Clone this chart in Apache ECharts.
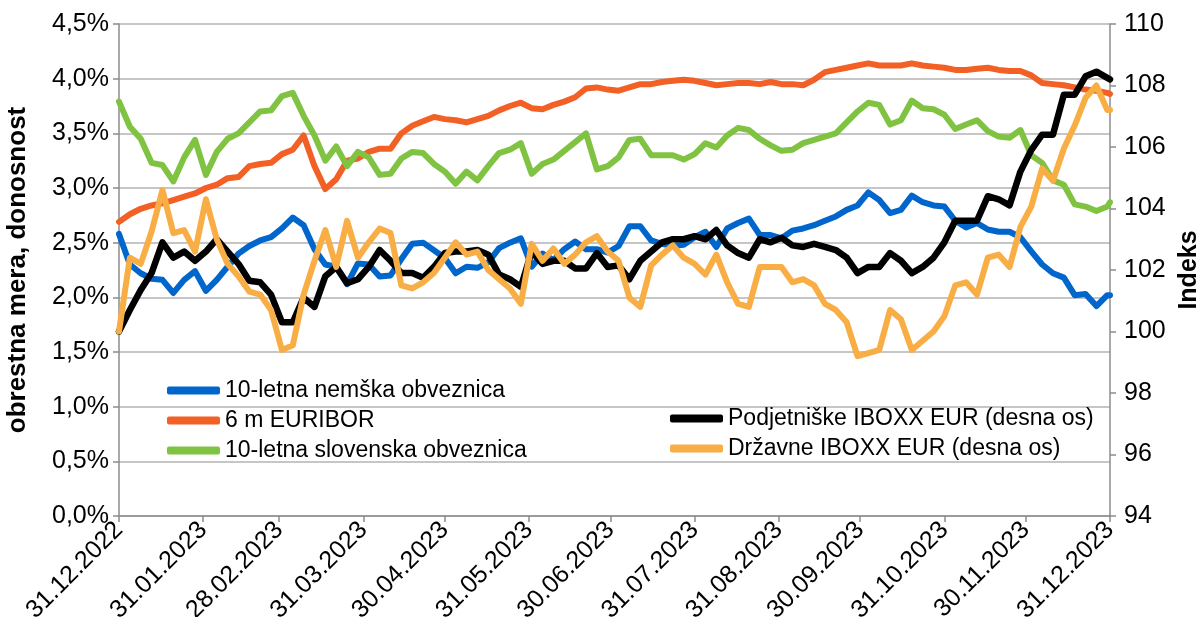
<!DOCTYPE html>
<html>
<head>
<meta charset="utf-8">
<script src="https://cdn.jsdelivr.net/npm/echarts@6/dist/echarts.min.js"></script>
<style>
  html, body { margin: 0; padding: 0; background: #fff; }
  #chart { width: 1196px; height: 617px; }
</style>
</head>
<body>
<div id="chart"></div>
<script>
// days since 31.12.2022
var days = [0,4,8,12,16,20,24,28,32,36,40,44,48,52,56,60,
  64,68,72,76,80,84,88,92,96,100,104,108,112,116,120,124,
  128,132,136,140,144,148,152,156,160,164,168,172,176,180,184,
  188,192,196,200,204,208,212,216,220,224,228,232,236,240,244,
  248,252,256,260,264,268,272,276,280,284,288,292,296,300,304,308,312,
  316,320,324,328,332,336,340,344,348,352,356,360,364,365];

var tickDays = [0,31,59,90,120,151,181,212,243,273,304,334,365];
var tickLabels = ['31.12.2022','31.01.2023','28.02.2023','31.03.2023','30.04.2023','31.05.2023',
  '30.06.2023','31.07.2023','31.08.2023','30.09.2023','31.10.2023','30.11.2023','31.12.2023'];

// left axis, %
var nemska = [2.58,2.3,2.22,2.17,2.16,2.04,2.16,2.24,2.06,2.16,2.28,2.4,2.47,2.52,2.55,2.63,
  2.73,2.66,2.44,2.3,2.28,2.12,2.31,2.3,2.19,2.2,2.35,2.49,2.5,2.43,2.36,2.22,
  2.28,2.27,2.32,2.45,2.5,2.54,2.28,2.4,2.34,2.44,2.51,2.44,2.44,2.41,2.47,
  2.65,2.65,2.52,2.49,2.47,2.48,2.55,2.6,2.46,2.63,2.68,2.72,2.57,2.57,2.54,
  2.61,2.63,2.66,2.7,2.74,2.8,2.84,2.96,2.89,2.77,2.8,2.93,2.87,2.84,2.83,2.7,2.64,
  2.68,2.62,2.6,2.6,2.55,2.42,2.3,2.22,2.18,2.02,2.03,1.92,2.02,2.02];
var euribor = [2.69,2.76,2.81,2.84,2.86,2.89,2.92,2.95,3.0,3.03,3.09,3.1,3.2,3.22,3.23,3.31,
  3.35,3.48,3.2,2.99,3.08,3.25,3.27,3.33,3.36,3.36,3.5,3.57,3.61,3.65,3.63,3.62,
  3.6,3.63,3.66,3.71,3.75,3.78,3.73,3.72,3.76,3.79,3.83,3.91,3.92,3.9,3.89,
  3.92,3.95,3.95,3.97,3.98,3.99,3.98,3.96,3.94,3.95,3.96,3.96,3.95,3.97,3.95,
  3.95,3.94,3.99,4.06,4.08,4.1,4.12,4.14,4.12,4.12,4.12,4.14,4.12,4.11,4.1,4.08,4.08,
  4.09,4.1,4.08,4.07,4.07,4.03,3.96,3.95,3.94,3.92,3.9,3.89,3.87,3.86];
var slovenska = [3.79,3.56,3.45,3.23,3.21,3.06,3.28,3.44,3.12,3.33,3.45,3.5,3.6,3.7,3.71,3.84,
  3.87,3.66,3.48,3.25,3.38,3.2,3.33,3.28,3.12,3.13,3.27,3.33,3.32,3.22,3.15,3.04,
  3.15,3.07,3.2,3.32,3.35,3.41,3.13,3.22,3.26,3.34,3.42,3.5,3.17,3.2,3.28,
  3.44,3.45,3.3,3.3,3.3,3.26,3.31,3.41,3.37,3.48,3.55,3.53,3.45,3.39,3.34,
  3.35,3.41,3.44,3.47,3.5,3.6,3.7,3.78,3.76,3.58,3.62,3.8,3.73,3.72,3.67,3.54,3.58,
  3.62,3.52,3.47,3.46,3.53,3.3,3.23,3.07,3.03,2.85,2.83,2.79,2.83,2.87];

// right axis, index
var podjetniske = [100.0,100.7,101.35,101.9,102.9,102.4,102.6,102.3,102.6,103.0,102.6,102.2,101.65,101.6,101.2,100.3,
  100.3,101.1,100.8,101.8,102.1,101.57,101.7,102.1,102.65,102.3,101.9,101.9,101.75,102.1,102.55,102.6,
  102.6,102.65,102.5,101.85,101.7,101.45,102.6,102.2,102.3,102.3,102.05,102.05,102.55,102.1,102.15,
  101.7,102.3,102.6,102.9,103.0,103.0,103.1,103.0,103.3,102.8,102.55,102.4,103.0,102.9,103.05,
  102.8,102.75,102.85,102.75,102.65,102.4,101.9,102.1,102.1,102.55,102.3,101.9,102.1,102.4,102.9,103.6,103.6,
  103.6,104.4,104.3,104.1,105.2,105.9,106.4,106.4,107.7,107.7,108.3,108.45,108.25,108.2];
var drzavne = [100.0,102.4,102.2,103.25,104.6,103.2,103.3,102.6,104.3,103.0,102.2,101.8,101.3,101.2,100.7,99.4,
  99.55,101.2,102.3,103.3,102.1,103.6,102.4,102.9,103.35,103.2,101.5,101.4,101.6,101.9,102.4,102.9,
  102.5,102.6,102.0,101.7,101.4,100.9,102.85,102.3,102.7,102.2,102.5,102.9,103.1,102.6,102.3,
  101.1,100.8,102.15,102.5,102.8,102.4,102.2,101.85,102.5,101.6,100.9,100.8,102.1,102.1,102.1,
  101.6,101.7,101.5,100.9,100.7,100.3,99.2,99.3,99.4,100.7,100.4,99.4,99.7,100.0,100.5,101.5,101.6,
  101.2,102.4,102.5,102.1,103.4,104.06,105.3,104.9,105.95,106.7,107.6,108.0,107.2,107.2];

function pairs(vals) {
  return vals.map(function (v, i) { return [days[i], v]; });
}

var FONT = '"Liberation Sans", Arial, sans-serif';
var myChart = echarts.init(document.getElementById('chart'));

function lineSeries(name, color, vals, axis, width) {
  return {
    name: name, type: 'line', yAxisIndex: axis, data: pairs(vals),
    showSymbol: false, symbol: 'none', color: color,
    lineStyle: { width: width, color: color, cap: 'round', join: 'round' },
    animation: false
  };
}

var option = {
  backgroundColor: '#fff',
  grid: { left: 119, right: 86, top: 24, bottom: 101, outerBoundsMode: 'none', containLabel: false },
  legend: [
    {
      data: ['10-letna nemška obveznica', '6 m EURIBOR', '10-letna slovenska obveznica'],
      orient: 'vertical', left: 162, top: 374, itemGap: 7,
      itemWidth: 53, itemHeight: 8, icon: 'roundRect',
      textStyle: { fontFamily: FONT, fontSize: 23, color: '#000' }
    },
    {
      data: ['Podjetniške IBOXX EUR (desna os)', 'Državne IBOXX EUR (desna os)'],
      orient: 'vertical', left: 665, top: 402, itemGap: 7,
      itemWidth: 53, itemHeight: 8, icon: 'roundRect',
      textStyle: { fontFamily: FONT, fontSize: 23, color: '#000' }
    }
  ],
  xAxis: {
    type: 'value', min: 0, max: 365,
    axisLine: { lineStyle: { color: '#8c8c8c', width: 1.5 } },
    axisTick: { show: true, customValues: tickDays, length: 6, lineStyle: { color: '#8c8c8c', width: 1.5 } },
    axisLabel: {
      customValues: tickDays, rotate: 45, margin: 10,
      fontFamily: FONT, fontSize: 25, color: '#000',
      formatter: function (v) { var i = tickDays.indexOf(v); return i >= 0 ? tickLabels[i] : ''; }
    },
    splitLine: { show: false }
  },
  yAxis: [
    {
      type: 'value', min: 0, max: 4.5, interval: 0.5, position: 'left',
      name: 'obrestna mera, donosnost', nameLocation: 'middle', nameGap: 88, nameRotate: 90,
      nameTextStyle: { fontFamily: FONT, fontSize: 26, fontWeight: 'bold', color: '#000' },
      axisLine: { show: true, lineStyle: { color: '#8c8c8c', width: 1.5 } },
      axisTick: { show: true, length: 6, lineStyle: { color: '#8c8c8c', width: 1.5 } },
      axisLabel: {
        fontFamily: FONT, fontSize: 25, color: '#000', margin: 10,
        formatter: function (v) { return v.toFixed(1).replace('.', ',') + '%'; }
      },
      splitLine: { show: true, lineStyle: { color: '#b3b3b3', width: 1.5 } }
    },
    {
      type: 'value', min: 94, max: 110, interval: 2, position: 'right',
      name: 'Indeks', nameLocation: 'middle', nameGap: 60, nameRotate: 90,
      nameTextStyle: { fontFamily: FONT, fontSize: 25, fontWeight: 'bold', color: '#000' },
      axisLine: { show: true, lineStyle: { color: '#8c8c8c', width: 1.5 } },
      axisTick: { show: true, length: 6, lineStyle: { color: '#8c8c8c', width: 1.5 } },
      axisLabel: { fontFamily: FONT, fontSize: 25, color: '#000', margin: 14 },
      splitLine: { show: false }
    }
  ],
  series: [
    lineSeries('10-letna nemška obveznica', '#0066cc', nemska, 0, 6),
    lineSeries('6 m EURIBOR', '#f26025', euribor, 0, 6),
    lineSeries('10-letna slovenska obveznica', '#80c342', slovenska, 0, 6),
    lineSeries('Podjetniške IBOXX EUR (desna os)', '#000000', podjetniske, 1, 6.5),
    lineSeries('Državne IBOXX EUR (desna os)', '#f9ae45', drzavne, 1, 6)
  ]
};

myChart.setOption(option);
window.addEventListener('resize', function () { myChart.resize(); });
</script>
</body>
</html>
